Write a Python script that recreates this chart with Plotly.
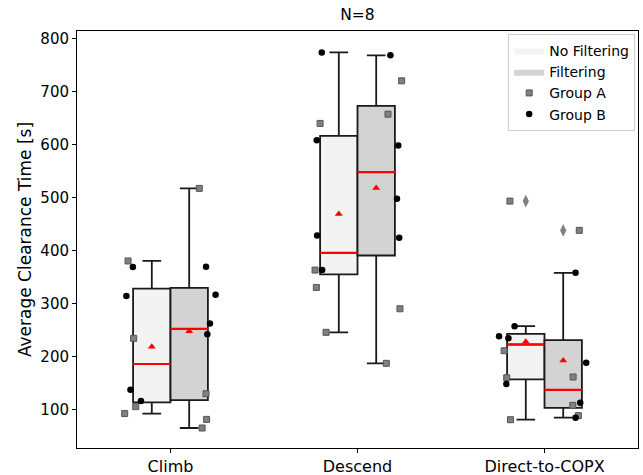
import numpy as np
import plotly.graph_objects as go

categories = ["Climb", "Descend", "Direct-to-COPX"]
conditions = ["No Filtering", "Filtering"]

# values per category (Group A squares, Group B dots)
nofilt_A = [[380, 234, 105, 92], [639.6, 362.8, 330, 245.3], [493, 210.6, 159.6, 80.4]]
nofilt_B = [[368.5, 314, 137, 115.7], [773.6, 608, 428, 362.8], [257, 237.7, 234, 147.7]]
filt_A = [[517, 129.4, 81, 64.7], [720, 657, 289.8, 186.8], [437.7, 161, 107.5, 88]]
filt_B = [[369, 316, 262, 241.5], [768, 598, 497.4, 423.8], [357.7, 188, 112.5, 84.2]]

# horizontal jitter of each point (category units)
nofilt_A_jit = [[-0.227, -0.197, -0.186, -0.245], [-0.200, -0.227, -0.220, -0.168], [-0.185, -0.216, -0.202, -0.182]]
nofilt_B_jit = [[-0.201, -0.236, -0.214, -0.158], [-0.191, -0.218, -0.216, -0.189], [-0.160, -0.243, -0.193, -0.204]]
filt_A_jit = [[0.154, 0.190, 0.193, 0.169], [0.236, 0.163, 0.227, 0.154], [0.186, 0.153, 0.151, 0.181]]
filt_B_jit = [[0.190, 0.241, 0.211, 0.197], [0.176, 0.218, 0.211, 0.223], [0.166, 0.223, 0.191, 0.166]]

y_ticks = [100, 200, 300, 400, 500, 600, 700, 800]

box_fill = {"No Filtering": "#f3f3f3", "Filtering": "#d3d3d3"}
box_offset = {"No Filtering": -0.1, "Filtering": 0.1}
box_w = 0.2

fig = go.Figure()

data = {
    "No Filtering": (nofilt_A, nofilt_B, nofilt_A_jit, nofilt_B_jit),
    "Filtering": (filt_A, filt_B, filt_A_jit, filt_B_jit),
}

med_x, med_y = [], []
mean_x, mean_y = [], []
fl_x, fl_y = [], []

for cond in conditions:
    A, B, _, _ = data[cond]
    for ci in range(len(categories)):
        vals = np.array(A[ci] + B[ci], dtype=float)
        q1, med, q3 = np.percentile(vals, [25, 50, 75])
        iqr = q3 - q1
        lo_f, hi_f = q1 - 1.5 * iqr, q3 + 1.5 * iqr
        inside = vals[(vals >= lo_f) & (vals <= hi_f)]
        pos = ci + box_offset[cond]
        fig.add_trace(go.Box(
            x=[pos], q1=[q1], median=[med], q3=[q3],
            lowerfence=[inside.min()], upperfence=[inside.max()],
            width=box_w, whiskerwidth=0.5, orientation="v",
            fillcolor=box_fill[cond], line=dict(color="#1a1a1a", width=1.8),
            boxpoints=False, showlegend=False, hoverinfo="skip",
        ))
        med_x += [pos - box_w / 2, pos + box_w / 2, None]
        med_y += [med, med, None]
        mean_x.append(pos)
        mean_y.append(vals.mean())
        for v in vals[(vals < lo_f) | (vals > hi_f)]:
            fl_x.append(pos)
            fl_y.append(v)

fig.add_trace(go.Scatter(x=med_x, y=med_y, mode="lines", line=dict(color="red", width=2.2),
                         showlegend=False, hoverinfo="skip"))
fig.add_trace(go.Scatter(x=mean_x, y=mean_y, mode="markers",
                         marker=dict(symbol="triangle-up", color="red", size=7),
                         showlegend=False, hoverinfo="skip"))
fig.add_trace(go.Scatter(x=fl_x, y=fl_y, mode="markers",
                         marker=dict(symbol="diamond-tall", color="#808080", size=9),
                         showlegend=False, hoverinfo="skip"))

# legend patches
for cond in conditions:
    fig.add_trace(go.Scatter(x=[None], y=[None], mode="lines", fill="toself",
                             fillcolor=box_fill[cond], line=dict(width=0, color=box_fill[cond]),
                             name=cond))

ax, ay, bx, by = [], [], [], []
for cond in conditions:
    A, B, jA, jB = data[cond]
    for ci in range(len(categories)):
        ax += [ci + j for j in jA[ci]]
        ay += A[ci]
        bx += [ci + j for j in jB[ci]]
        by += B[ci]

fig.add_trace(go.Scatter(x=ax, y=ay, mode="markers", name="Group A",
                         marker=dict(symbol="square", color="#808080", size=6,
                                     line=dict(color="#555555", width=1))))
fig.add_trace(go.Scatter(x=bx, y=by, mode="markers", name="Group B",
                         marker=dict(symbol="circle", color="black", size=6.5)))

font = "DejaVu Sans"
fig.update_layout(
    width=643, height=475,
    margin=dict(l=77, r=5, t=31, b=27, autoexpand=False),
    paper_bgcolor="white", plot_bgcolor="white",
    font=dict(family=font, color="black"),
    title=dict(text="N=8", x=0.5, xref="paper", y=1 - 15 / 475, yref="container",
               xanchor="center", yanchor="middle", pad=dict(t=0, b=0),
               font=dict(size=15.5, family=font)),
    xaxis=dict(range=[-0.5, 2.5], tickvals=list(range(len(categories))), ticktext=categories,
               ticks="outside", ticklen=4, tickcolor="black", showline=True, mirror=True,
               linecolor="black", linewidth=1, showgrid=False, zeroline=False, automargin=False,
               tickfont=dict(size=16, family=font)),
    yaxis=dict(range=[27, 814], tickvals=y_ticks, ticks="outside", ticklen=4, tickcolor="black",
               showline=True, mirror=True, linecolor="black", linewidth=1, showgrid=False,
               zeroline=False, automargin=False, tickfont=dict(size=15, family=font),
               title=dict(text="Average Clearance Time [s]", font=dict(size=17, family=font), standoff=4)),
    legend=dict(x=0.995, xanchor="right", y=0.993, yanchor="top", bgcolor="white",
                bordercolor="#cccccc", borderwidth=1, font=dict(size=14, family=font),
                tracegroupgap=0),
    showlegend=True,
)

fig.write_html("out.html", config={"displayModeBar": False},
               post_script="document.body.style.margin='0';")
